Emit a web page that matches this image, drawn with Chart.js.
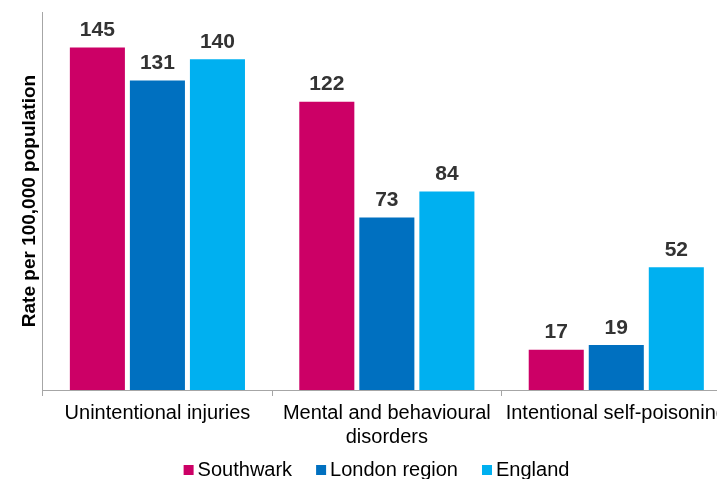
<!DOCTYPE html>
<html>
<head>
<meta charset="utf-8">
<script src="https://cdn.jsdelivr.net/npm/chart.js@4/dist/chart.umd.min.js"></script>
<style>
  html, body { margin: 0; padding: 0; background: #fff; overflow: hidden; width: 717px; height: 479px; }
  #wrap { width: 745px; height: 479px; }
</style>
</head>
<body>
<div id="wrap"><canvas id="c" width="745" height="479"></canvas></div>
<script>
const categories = ["Unintentional injuries", ["Mental and behavioural", "disorders"], "Intentional self-poisoning"];
const seriesNames = ["Southwark", "London region", "England"];
const southwark = [145, 122, 17];
const londonRegion = [131, 73, 19];
const england = [140, 84, 52];
const seriesColors = ["#CC0066", "#0070C0", "#00B0F0"];
const yTitle = "Rate per 100,000 population";

const FONT = '"Liberation Sans", Arial, sans-serif';

const valueLabels = {
  id: 'valueLabels',
  afterDatasetsDraw(chart) {
    const ctx = chart.ctx;
    ctx.save();
    ctx.font = 'bold 21px ' + FONT;
    ctx.fillStyle = '#333333';
    ctx.textAlign = 'center';
    ctx.textBaseline = 'alphabetic';
    chart.data.datasets.forEach((ds, i) => {
      chart.getDatasetMeta(i).data.forEach((bar, j) => {
        ctx.fillText(String(ds.data[j]), bar.x, bar.y - 11.5);
      });
    });
    ctx.restore();
  }
};

const bottomLegend = {
  id: 'bottomLegend',
  afterDraw(chart) {
    const ctx = chart.ctx;
    ctx.save();
    ctx.font = '20px ' + FONT;
    ctx.textBaseline = 'middle';
    ctx.textAlign = 'left';
    const box = 10, gap = 4, spacing = 24;
    const items = chart.data.datasets.map(ds => ({ label: ds.label, color: ds.backgroundColor, w: ctx.measureText(ds.label).width }));
    let total = 0;
    items.forEach((it, i) => { total += box + gap + it.w + (i < items.length - 1 ? spacing : 0); });
    let x = 376.5 - total / 2;
    const y = 470;
    items.forEach(it => {
      ctx.fillStyle = it.color;
      ctx.fillRect(x, y - box / 2, box, box);
      ctx.fillStyle = '#000000';
      ctx.fillText(it.label, x + box + gap, y);
      x += box + gap + it.w + spacing;
    });
    ctx.restore();
  }
};

new Chart(document.getElementById('c'), {
  type: 'bar',
  data: {
    labels: categories,
    datasets: [
      { label: seriesNames[0], data: southwark, backgroundColor: seriesColors[0] },
      { label: seriesNames[1], data: londonRegion, backgroundColor: seriesColors[1] },
      { label: seriesNames[2], data: england, backgroundColor: seriesColors[2] }
    ]
  },
  options: {
    responsive: false,
    animation: false,
    devicePixelRatio: 1,
    categoryPercentage: 0.785,
    barPercentage: 0.917,
    layout: { padding: { top: 12, left: 18.6, right: 14, bottom: 0 } },
    plugins: {
      legend: { display: false },
      tooltip: { enabled: false }
    },
    scales: {
      x: {
        offset: true,
        grid: { display: true, offset: true, drawOnChartArea: false, drawTicks: true, tickLength: 6, color: '#A6A6A6', lineWidth: 1 },
        border: { display: true, color: '#A6A6A6', width: 1 },
        ticks: { color: '#000000', font: { family: FONT, size: 20, lineHeight: 1.2 }, padding: 5, maxRotation: 0, autoSkip: false },
        afterFit: s => { s.height = 89; }
      },
      y: {
        min: 0,
        max: 160,
        grid: { display: false, drawTicks: false, tickLength: 0 },
        border: { display: true, color: '#A6A6A6', width: 1 },
        ticks: { display: false },
        title: { display: true, text: yTitle, color: '#000000', font: { family: FONT, size: 19, weight: 'bold', lineHeight: 1.2 }, padding: { top: 0, bottom: 1.3 } }
      }
    }
  },
  plugins: [valueLabels, bottomLegend]
});
</script>
</body>
</html>
